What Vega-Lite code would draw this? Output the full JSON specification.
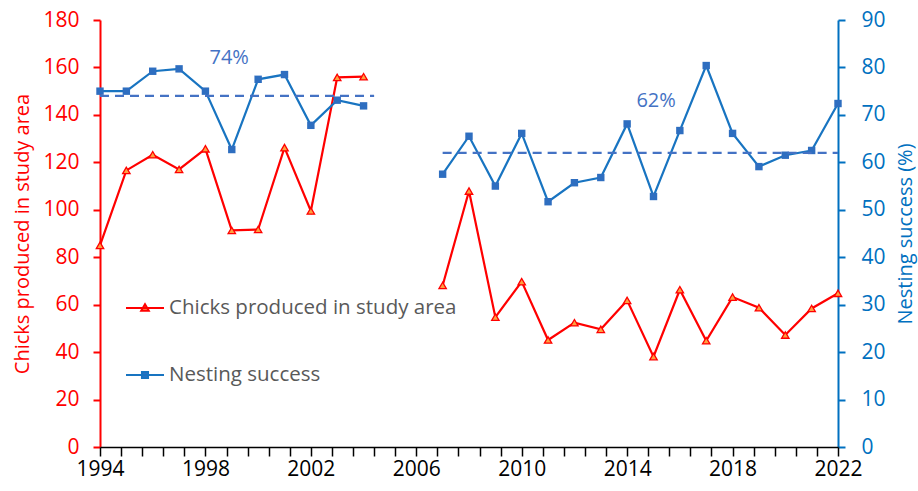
{
  "$schema": "https://vega.github.io/schema/vega-lite/v6.json",
  "width": 738,
  "height": 427,
  "autosize": {"type": "none"},
  "padding": {"left": 100, "top": 20, "right": 80, "bottom": 44},
  "background": "white",
  "config": {
    "view": {"stroke": null},
    "font": "Open Sans",
    "axis": {"grid": false, "labelFont": "Open Sans", "titleFont": "Open Sans", "labelFontSize": 21, "titleFontSize": 20, "titleFontWeight": "normal"}
  },
  "datasets": {
    "chicks": [
      {"year": 1994, "chicks": 85.0, "period": "a", "series": "Chicks produced in study area"},
      {"year": 1995, "chicks": 116.6, "period": "a", "series": "Chicks produced in study area"},
      {"year": 1996, "chicks": 123.2, "period": "a", "series": "Chicks produced in study area"},
      {"year": 1997, "chicks": 117.0, "period": "a", "series": "Chicks produced in study area"},
      {"year": 1998, "chicks": 125.7, "period": "a", "series": "Chicks produced in study area"},
      {"year": 1999, "chicks": 91.3, "period": "a", "series": "Chicks produced in study area"},
      {"year": 2000, "chicks": 91.7, "period": "a", "series": "Chicks produced in study area"},
      {"year": 2001, "chicks": 126.2, "period": "a", "series": "Chicks produced in study area"},
      {"year": 2002, "chicks": 99.5, "period": "a", "series": "Chicks produced in study area"},
      {"year": 2003, "chicks": 155.8, "period": "a", "series": "Chicks produced in study area"},
      {"year": 2004, "chicks": 156.1, "period": "a", "series": "Chicks produced in study area"},
      {"year": 2007, "chicks": 68.1, "period": "b", "series": "Chicks produced in study area"},
      {"year": 2008, "chicks": 107.9, "period": "b", "series": "Chicks produced in study area"},
      {"year": 2009, "chicks": 54.7, "period": "b", "series": "Chicks produced in study area"},
      {"year": 2010, "chicks": 69.7, "period": "b", "series": "Chicks produced in study area"},
      {"year": 2011, "chicks": 45.1, "period": "b", "series": "Chicks produced in study area"},
      {"year": 2012, "chicks": 52.4, "period": "b", "series": "Chicks produced in study area"},
      {"year": 2013, "chicks": 49.6, "period": "b", "series": "Chicks produced in study area"},
      {"year": 2014, "chicks": 61.8, "period": "b", "series": "Chicks produced in study area"},
      {"year": 2015, "chicks": 38.1, "period": "b", "series": "Chicks produced in study area"},
      {"year": 2016, "chicks": 66.3, "period": "b", "series": "Chicks produced in study area"},
      {"year": 2017, "chicks": 44.8, "period": "b", "series": "Chicks produced in study area"},
      {"year": 2018, "chicks": 63.2, "period": "b", "series": "Chicks produced in study area"},
      {"year": 2019, "chicks": 58.7, "period": "b", "series": "Chicks produced in study area"},
      {"year": 2020, "chicks": 47.2, "period": "b", "series": "Chicks produced in study area"},
      {"year": 2021, "chicks": 58.4, "period": "b", "series": "Chicks produced in study area"},
      {"year": 2022, "chicks": 64.8, "period": "b", "series": "Chicks produced in study area"}
    ],
    "nesting": [
      {"year": 1994, "success": 75.0, "period": "a", "series": "Nesting success"},
      {"year": 1995, "success": 75.0, "period": "a", "series": "Nesting success"},
      {"year": 1996, "success": 79.2, "period": "a", "series": "Nesting success"},
      {"year": 1997, "success": 79.7, "period": "a", "series": "Nesting success"},
      {"year": 1998, "success": 75.0, "period": "a", "series": "Nesting success"},
      {"year": 1999, "success": 62.7, "period": "a", "series": "Nesting success"},
      {"year": 2000, "success": 77.5, "period": "a", "series": "Nesting success"},
      {"year": 2001, "success": 78.5, "period": "a", "series": "Nesting success"},
      {"year": 2002, "success": 67.8, "period": "a", "series": "Nesting success"},
      {"year": 2003, "success": 73.1, "period": "a", "series": "Nesting success"},
      {"year": 2004, "success": 71.9, "period": "a", "series": "Nesting success"},
      {"year": 2007, "success": 57.5, "period": "b", "series": "Nesting success"},
      {"year": 2008, "success": 65.5, "period": "b", "series": "Nesting success"},
      {"year": 2009, "success": 55.0, "period": "b", "series": "Nesting success"},
      {"year": 2010, "success": 66.1, "period": "b", "series": "Nesting success"},
      {"year": 2011, "success": 51.7, "period": "b", "series": "Nesting success"},
      {"year": 2012, "success": 55.7, "period": "b", "series": "Nesting success"},
      {"year": 2013, "success": 56.8, "period": "b", "series": "Nesting success"},
      {"year": 2014, "success": 68.1, "period": "b", "series": "Nesting success"},
      {"year": 2015, "success": 52.8, "period": "b", "series": "Nesting success"},
      {"year": 2016, "success": 66.7, "period": "b", "series": "Nesting success"},
      {"year": 2017, "success": 80.4, "period": "b", "series": "Nesting success"},
      {"year": 2018, "success": 66.1, "period": "b", "series": "Nesting success"},
      {"year": 2019, "success": 59.1, "period": "b", "series": "Nesting success"},
      {"year": 2020, "success": 61.5, "period": "b", "series": "Nesting success"},
      {"year": 2021, "success": 62.5, "period": "b", "series": "Nesting success"},
      {"year": 2022, "success": 72.4, "period": "b", "series": "Nesting success"}
    ],
    "means": [
      {"start": 1994, "end": 2004.4, "mean": 74, "label": "74%", "labelYear": 1998.9, "labelPos": 82},
      {"start": 2007, "end": 2022, "mean": 62, "label": "62%", "labelYear": 2015.1, "labelPos": 73}
    ]
  },
  "resolve": {"scale": {"y": "independent"}},
  "layer": [
    {
      "data": {"name": "chicks"},
      "encoding": {
        "x": {
          "field": "year", "type": "quantitative",
          "scale": {"domain": [1994, 2022], "nice": false, "zero": false},
          "axis": {
            "orient": "bottom", "title": null, "tickCount": 100,
            "values": [1994, 1994.8, 1995.6, 1996.4, 1997.2, 1998, 1998.8, 1999.6, 2000.4, 2001.2, 2002, 2002.8, 2003.6, 2004.4, 2005.2, 2006, 2006.8, 2007.6, 2008.4, 2009.2, 2010, 2010.8, 2011.6, 2012.4, 2013.2, 2014, 2014.8, 2015.6, 2016.4, 2017.2, 2018, 2018.8, 2019.6, 2020.4, 2021.2, 2022],
            "labelExpr": "abs(datum.value % 4 - 2) < 0.01 ? format(datum.value, 'd') : ''",
            "labelColor": "black", "labelFlush": false, "labelOverlap": false, "labelBound": false,
            "domainColor": "black", "domainWidth": 1.5, "tickColor": "black", "tickWidth": 1.5,
            "tickSize": 9, "labelPadding": 2, "zindex": 1,
            "encode": {
              "ticks": {
                "update": {
                  "y2": {"signal": "abs(datum.value % 4 - 2) < 0.01 ? 9 : 5"}
                }
              }
            }
          }
        },
        "y": {
          "field": "chicks", "type": "quantitative",
          "scale": {"domain": [0, 180], "nice": false},
          "axis": {
            "title": "Chicks produced in study area", "titleColor": "#FF0000", "titlePadding": 10,
            "values": [0, 20, 40, 60, 80, 100, 120, 140, 160, 180],
            "labelColor": "#FF0000", "domainColor": "#FF0000", "domainWidth": 2,
            "tickColor": "#FF0000", "tickWidth": 2, "tickSize": 7, "labelPadding": 14
          }
        }
      },
      "layer": [
        {
          "mark": {"type": "line", "strokeWidth": 2.2},
          "encoding": {
            "detail": {"field": "period"},
            "color": {
              "field": "series", "type": "nominal",
              "scale": {"domain": ["Chicks produced in study area", "Nesting success"], "range": ["#FF0000", "#1874C1"]},
              "legend": {
                "title": null, "orient": "none", "legendX": 25, "legendY": 268,
                "symbolType": "M-1,0H1", "symbolSize": 1444, "symbolStrokeWidth": 2,
                "labelFont": "Open Sans", "labelFontSize": 20.5, "labelColor": "#595959", "labelLimit": 500,
                "labelOffset": 4, "rowPadding": 36,
                "encode": {
                  "symbols": {
                    "update": {
                      "shape": {"signal": "datum.value === 'Nesting success' ? 'M-1,0H1M-0.16,-0.16H0.16V0.16H-0.16Z' : 'M-1,0H1M-0.2,0.15L0,-0.2L0.2,0.15Z'"},
                      "fill": {"signal": "datum.value === 'Nesting success' ? '#2E6EC0' : '#FFA040'"}
                    }
                  }
                }
              }
            }
          }
        },
        {
          "mark": {"type": "point", "shape": "triangle-up", "filled": true, "size": 55, "fill": "#FFA040", "stroke": "#FF0000", "strokeWidth": 1.3, "opacity": 1}
        }
      ]
    },
    {
      "layer": [
        {
          "data": {"name": "nesting"},
          "mark": {"type": "line", "strokeWidth": 2.2, "color": "#1874C1"},
          "encoding": {
            "x": {"field": "year", "type": "quantitative"},
            "y": {
              "field": "success", "type": "quantitative",
              "scale": {"domain": [0, 90], "nice": false},
              "axis": {
                "orient": "right", "title": "Nesting success (%)", "titleColor": "#0070C0", "titleAngle": 270,
                "titlePadding": 30, "values": [0, 10, 20, 30, 40, 50, 60, 70, 80, 90],
                "labelColor": "#0070C0", "domainColor": "#0070C0", "domainWidth": 2,
                "tickColor": "#0070C0", "tickWidth": 2, "tickSize": 7, "labelPadding": 16
              }
            },
            "detail": {"field": "period"},
            "color": {"field": "series", "type": "nominal"}
          }
        },
        {
          "data": {"name": "nesting"},
          "mark": {"type": "square", "filled": true, "size": 55, "color": "#2E6EC0", "opacity": 1},
          "encoding": {
            "x": {"field": "year", "type": "quantitative"},
            "y": {"field": "success", "type": "quantitative"}
          }
        },
        {
          "data": {"name": "means"},
          "mark": {"type": "rule", "strokeDash": [9, 6], "strokeWidth": 2.2, "color": "#4472C4"},
          "encoding": {
            "x": {"field": "start", "type": "quantitative"},
            "x2": {"field": "end"},
            "y": {"field": "mean", "type": "quantitative"}
          }
        },
        {
          "data": {"name": "means"},
          "mark": {"type": "text", "font": "Open Sans", "fontSize": 20, "color": "#4472C4", "align": "center", "baseline": "middle"},
          "encoding": {
            "x": {"field": "labelYear", "type": "quantitative"},
            "y": {"field": "labelPos", "type": "quantitative"},
            "text": {"field": "label"}
          }
        }
      ]
    }
  ]
}
